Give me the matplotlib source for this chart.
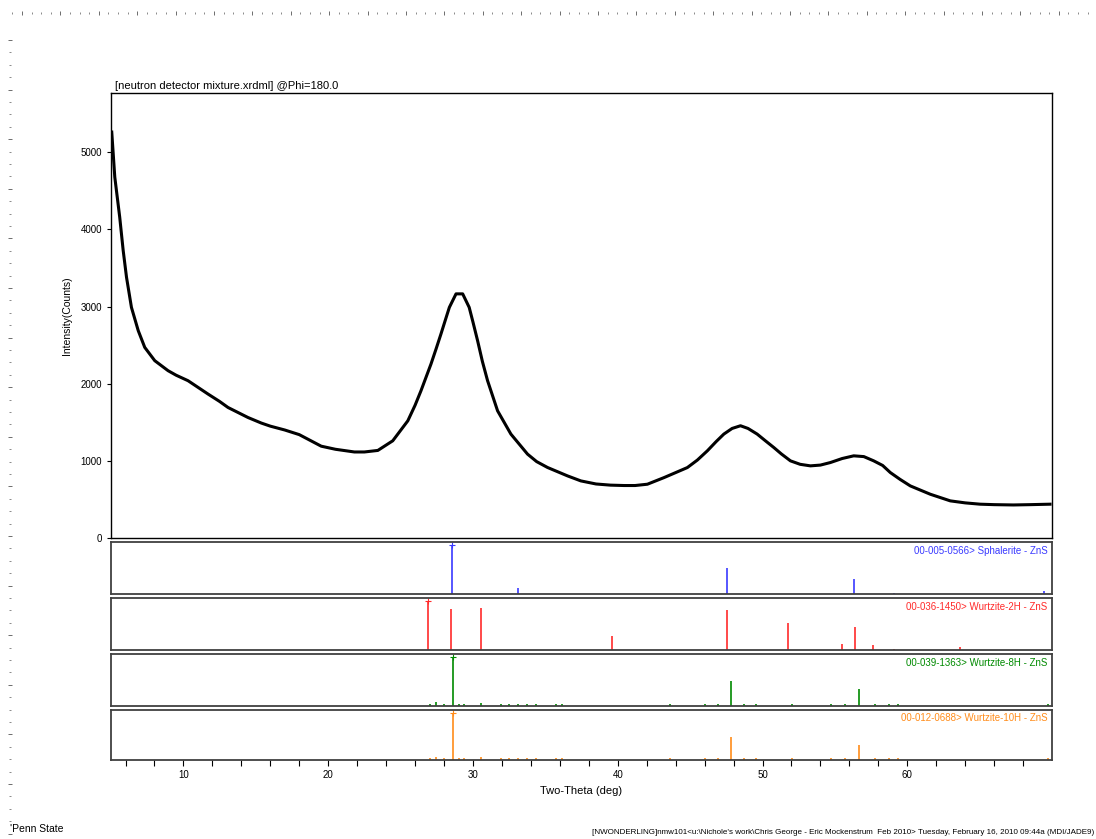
import numpy as np
import matplotlib.pyplot as plt

plt.rcParams['font.family'] = ['Liberation Sans', 'DejaVu Sans']

two_theta = [5.05, 5.26, 5.6, 5.84, 6.07, 6.41, 6.88, 7.33, 8.02, 8.94, 9.5, 10.32, 11.7,
             12.5, 13.08, 14.46, 15.38, 16.0, 17.0, 18.0, 19.52, 20.5, 21.81, 22.5, 23.43,
             24.46, 25.5, 26.0, 26.41, 27.1, 27.45, 27.79, 28.1, 28.37, 28.83, 29.29, 29.74,
             30.0, 30.32, 30.65, 31.01, 31.7, 32.62, 33.77, 34.4, 35.15, 36.53, 37.45, 38.5,
             39.5, 40.44, 41.2, 42.05, 43.2, 44.81, 45.5, 46.19, 46.8, 47.33, 47.9, 48.48,
             49.0, 49.63, 50.2, 50.78, 51.3, 51.93, 52.6, 53.31, 54.0, 54.69, 55.5, 56.3,
             57.0, 57.68, 58.3, 58.83, 59.5, 60.21, 61.59, 62.97, 64.0, 65.03, 66.0, 67.33,
             68.5, 69.86]
counts = [5263, 4679, 4160, 3727, 3380, 2990, 2688, 2471, 2299, 2169, 2110, 2039, 1866,
          1770, 1692, 1562, 1490, 1450, 1400, 1340, 1190, 1150, 1115, 1115, 1135,
          1260, 1519, 1720, 1909, 2255, 2450, 2645, 2830, 2990, 3165, 3165, 2990,
          2800, 2558, 2290, 2039, 1649, 1347, 1087, 990, 914, 805, 740, 700,
          685, 680, 680, 697, 783, 913, 1010, 1130, 1250, 1347, 1420, 1455,
          1420, 1347, 1260, 1173, 1090, 1000, 955, 935, 945, 978, 1030, 1065,
          1055, 1000, 940, 848, 760, 675, 567, 481, 455, 438, 432, 428,
          432, 438]

# reference cards
sph_pos = [28.56, 33.09, 47.52, 56.29, 59.08, 69.44]
sph_int = [100, 12, 53, 31, 2, 6]
w2h_pos = [26.91, 28.50, 30.53, 39.61, 47.56, 51.78, 55.47, 56.42, 57.60, 59.07, 63.64]
w2h_int = [100, 85, 87, 28, 83, 55, 12, 48, 11, 3, 6]
w8h_pos = [27.02, 27.45, 27.99, 28.63, 29.01, 29.39, 30.57, 31.92, 32.52, 33.14, 33.74,
           34.37, 35.72, 36.14, 43.62, 46.03, 46.96, 47.84, 48.73, 49.57, 52.06, 54.72,
           55.73, 56.66, 57.76, 58.73, 59.33, 69.73]
w8h_int = [4, 8, 4, 100, 5, 5, 7, 4, 4, 5, 4,
           4, 4, 4, 4, 4, 4, 51, 4, 4, 5, 4,
           4, 36, 4, 4, 4, 4]
w10h_pos = w8h_pos
w10h_int = [4, 7, 4, 100, 5, 5, 6, 4, 4, 5, 4,
            4, 4, 4, 4, 4, 4, 50, 4, 4, 5, 4,
            4, 33, 4, 4, 4, 4]

cards = [
    ('00-005-0566> Sphalerite - ZnS', sph_pos, sph_int, '#3a3aff'),
    ('00-036-1450> Wurtzite-2H - ZnS', w2h_pos, w2h_int, '#ff2a2a'),
    ('00-039-1363> Wurtzite-8H - ZnS', w8h_pos, w8h_int, '#008a00'),
    ('00-012-0688> Wurtzite-10H - ZnS', w10h_pos, w10h_int, '#ff8c1a'),
]

fig = plt.figure(figsize=(10.96, 8.39), dpi=100)

ax = fig.add_axes([0.1013, 0.3588, 0.8586, 0.5304])
ax.plot(two_theta, counts, color='black', lw=2.2, solid_joinstyle='round')
ax.set_xlim(5, 70)
ax.set_ylim(0, 5770)
ax.set_xticks([])
ax.set_yticks([0, 1000, 2000, 3000, 4000, 5000])
ax.tick_params(axis='y', labelsize=7, length=3, width=0.8, direction='out')
ax.set_ylabel('Intensity(Counts)', fontsize=7.5, labelpad=6)
ax.text(0.004, 1.004, '[neutron detector mixture.xrdml] @Phi=180.0', transform=ax.transAxes,
        fontsize=8, ha='left', va='bottom')
for s in ax.spines.values():
    s.set_linewidth(1.0)

bottoms = [0.2920, 0.2253, 0.1585, 0.0942]
heights = [0.0620, 0.0620, 0.0620, 0.0596]
for i, (label, pos, inten, col) in enumerate(cards):
    p = fig.add_axes([0.1013, bottoms[i], 0.8586, heights[i]])
    p.vlines(pos, 0, inten, color=col, lw=1.2)
    top = inten.index(max(inten))
    p.plot([pos[top]], [inten[top]], marker='+', ms=4, mew=0.8, color=col)
    p.set_xlim(5, 70)
    p.set_ylim(0, 107)
    p.set_yticks([])
    p.text(0.995, 0.93, label, transform=p.transAxes, ha='right', va='top',
           fontsize=7, color=col)
    for s in p.spines.values():
        s.set_color('#404040')
        s.set_linewidth(1.3)
    if i < 3:
        p.set_xticks([])
    else:
        p.set_xticks([10, 20, 30, 40, 50, 60])
        p.set_xticks(np.arange(6, 70, 2), minor=True)
        p.tick_params(axis='x', which='both', labelsize=7, length=4, width=0.8,
                      direction='out')
        p.set_xlabel('Two-Theta (deg)', fontsize=8, labelpad=4)

# page rulers
rt = fig.add_axes([0, 0.984, 1, 0.0001])
rt.set_xlim(0, 1096)
rt.set_xticks(np.arange(22, 1096, 38.4))
rt.set_xticks(np.arange(12.4, 1096, 9.6), minor=True)
rt.tick_params(axis='x', which='major', length=3, width=0.6, color='#555555',
               direction='inout', labelbottom=False)
rt.tick_params(axis='x', which='minor', length=1.5, width=0.6, color='#777777',
               direction='inout')
rt.set_yticks([])
for s in rt.spines.values():
    s.set_visible(False)

rl = fig.add_axes([0.009, 0, 0.0001, 1])
rl.set_ylim(839, 0)
rl.set_yticks(np.arange(40, 835, 49.6))
rl.set_yticks(np.arange(40, 835, 12.4), minor=True)
rl.tick_params(axis='y', which='major', length=3.5, width=0.6, color='#555555',
               direction='inout', labelleft=False)
rl.tick_params(axis='y', which='minor', length=1.8, width=0.6, color='#777777',
               direction='inout')
rl.set_xticks([])
for s in rl.spines.values():
    s.set_visible(False)

fig.text(0.009, 0.006, "'Penn State", fontsize=7.5, ha='left', va='bottom')
fig.text(0.998, 0.004,
         "[NWONDERLING]nmw101<u:\\Nichole's work\\Chris George - Eric Mockenstrum  Feb 2010> "
         "Tuesday, February 16, 2010 09:44a (MDI/JADE9)",
         fontsize=5.8, ha='right', va='bottom')

fig.savefig('out.png', dpi=100)
